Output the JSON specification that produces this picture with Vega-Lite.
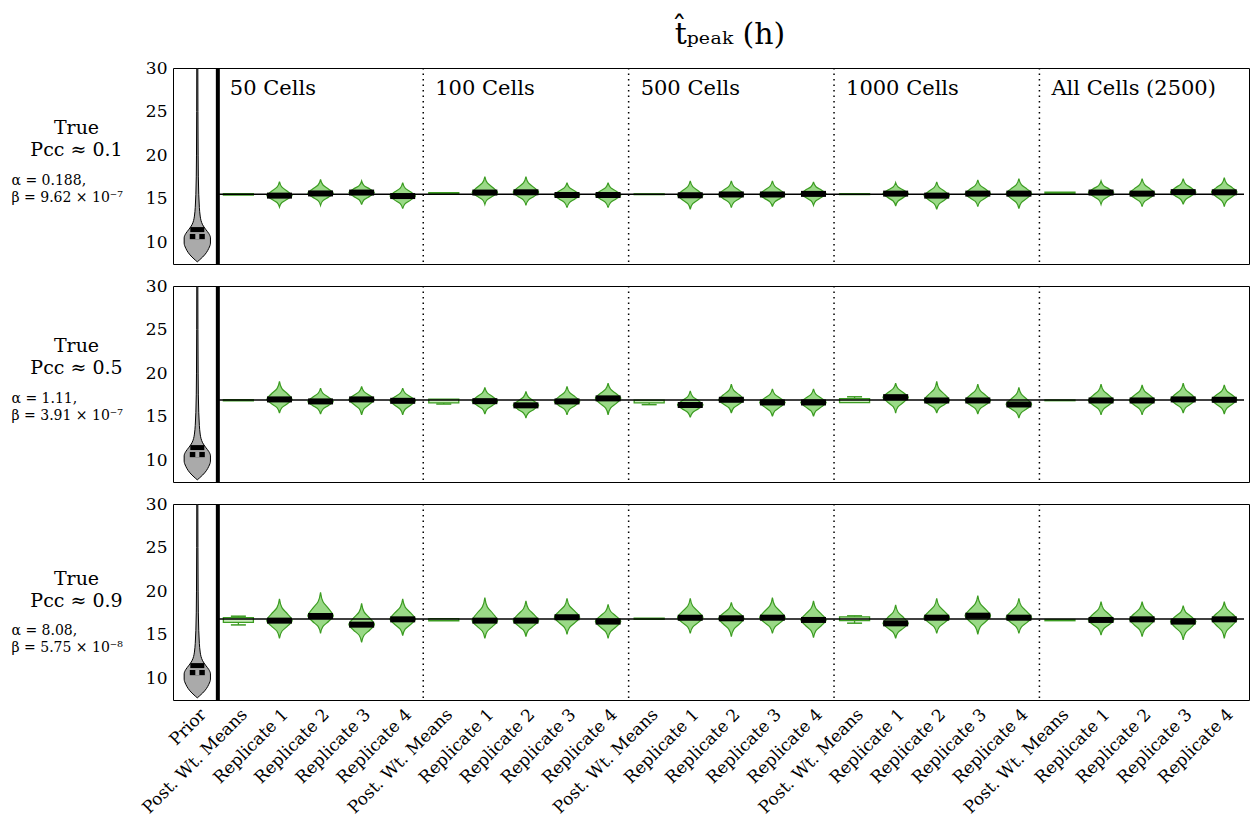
{
"$schema": "https://vega.github.io/schema/vega-lite/v6.json",
"padding": {"left": 10, "top": 19, "right": 6, "bottom": 2},
"background": "white",
"bounds": "flush",
"spacing": 22,
"config": {
  "view": {"stroke": "black", "strokeWidth": 1},
  "font": "DejaVu Serif",
  "axis": {"grid": false, "domain": false, "ticks": false, "labelFont": "DejaVu Serif", "labelColor": "black", "titleFont": "DejaVu Serif", "titleFontWeight": "normal", "titleColor": "black"}
},
"title": {"text": "t̂ₚₑₐₖ (h)", "fontSize": 30, "font": "DejaVu Serif", "fontWeight": "normal", "color": "black", "anchor": "middle", "offset": 9, "dx": 100},
"datasets": {
  "prior": [
    {"r":1,"c":0,"m":11.45,"s1":10.35,"s2":10.95,"y":[7.75,7.95,8.3,8.8,9.3,9.9,10.5,11.0,11.5,12.0,12.5,13.0,14.0,15.5,17.5,20,25,30],"w":[0,0.05,0.13,0.22,0.28,0.32,0.32,0.28,0.2,0.13,0.09,0.07,0.05,0.035,0.025,0.02,0.015,0.013]},
    {"r":2,"c":0,"m":11.45,"s1":10.35,"s2":10.95,"y":[7.75,7.95,8.3,8.8,9.3,9.9,10.5,11.0,11.5,12.0,12.5,13.0,14.0,15.5,17.5,20,25,30],"w":[0,0.05,0.13,0.22,0.28,0.32,0.32,0.28,0.2,0.13,0.09,0.07,0.05,0.035,0.025,0.02,0.015,0.013]},
    {"r":3,"c":0,"m":11.45,"s1":10.35,"s2":10.95,"y":[7.75,7.95,8.3,8.8,9.3,9.9,10.5,11.0,11.5,12.0,12.5,13.0,14.0,15.5,17.5,20,25,30],"w":[0,0.05,0.13,0.22,0.28,0.32,0.32,0.28,0.2,0.13,0.09,0.07,0.05,0.035,0.025,0.02,0.015,0.013]}
  ],
  "vio": [
    {"r":1,"c":2,"m":15.35,"y":[14.04,14.56,14.96,15.35,15.83,16.32,16.96],"w":[0,0.06,0.2,0.31,0.2,0.06,0]},
    {"r":1,"c":3,"m":15.6,"y":[14.24,14.78,15.19,15.6,16.09,16.57,17.22],"w":[0,0.06,0.2,0.31,0.2,0.06,0]},
    {"r":1,"c":4,"m":15.7,"y":[14.31,14.87,15.28,15.7,16.1,16.5,17.03],"w":[0,0.06,0.2,0.31,0.2,0.06,0]},
    {"r":1,"c":5,"m":15.3,"y":[13.85,14.43,14.86,15.3,15.76,16.22,16.84],"w":[0,0.06,0.2,0.31,0.2,0.06,0]},
    {"r":1,"c":7,"m":15.7,"y":[14.35,14.89,15.3,15.7,16.25,16.8,17.53],"w":[0,0.06,0.2,0.31,0.2,0.06,0]},
    {"r":1,"c":8,"m":15.73,"y":[14.24,14.84,15.28,15.73,16.27,16.81,17.53],"w":[0,0.06,0.2,0.31,0.2,0.06,0]},
    {"r":1,"c":9,"m":15.42,"y":[13.97,14.55,14.99,15.42,15.85,16.27,16.84],"w":[0,0.06,0.2,0.31,0.2,0.06,0]},
    {"r":1,"c":10,"m":15.42,"y":[13.97,14.55,14.99,15.42,15.85,16.27,16.84],"w":[0,0.06,0.2,0.31,0.2,0.06,0]},
    {"r":1,"c":12,"m":15.38,"y":[13.78,14.42,14.9,15.38,15.88,16.37,17.03],"w":[0,0.06,0.2,0.31,0.2,0.06,0]},
    {"r":1,"c":13,"m":15.48,"y":[13.97,14.57,15.03,15.48,15.95,16.41,17.03],"w":[0,0.06,0.2,0.31,0.2,0.06,0]},
    {"r":1,"c":14,"m":15.48,"y":[14.08,14.64,15.06,15.48,15.95,16.41,17.03],"w":[0,0.06,0.2,0.31,0.2,0.06,0]},
    {"r":1,"c":15,"m":15.55,"y":[14.24,14.76,15.16,15.55,15.96,16.37,16.92],"w":[0,0.06,0.2,0.31,0.2,0.06,0]},
    {"r":1,"c":17,"m":15.58,"y":[14.16,14.73,15.15,15.58,15.96,16.34,16.84],"w":[0,0.06,0.2,0.31,0.2,0.06,0]},
    {"r":1,"c":18,"m":15.35,"y":[13.78,14.41,14.88,15.35,15.82,16.29,16.92],"w":[0,0.06,0.2,0.31,0.2,0.06,0]},
    {"r":1,"c":19,"m":15.58,"y":[14.08,14.68,15.13,15.58,16.05,16.52,17.15],"w":[0,0.06,0.2,0.31,0.2,0.06,0]},
    {"r":1,"c":20,"m":15.58,"y":[13.85,14.54,15.06,15.58,16.1,16.61,17.3],"w":[0,0.06,0.2,0.31,0.2,0.06,0]},
    {"r":1,"c":22,"m":15.7,"y":[14.35,14.89,15.3,15.7,16.1,16.5,17.03],"w":[0,0.06,0.2,0.31,0.2,0.06,0]},
    {"r":1,"c":23,"m":15.58,"y":[14.08,14.68,15.13,15.58,16.1,16.61,17.3],"w":[0,0.06,0.2,0.31,0.2,0.06,0]},
    {"r":1,"c":24,"m":15.75,"y":[14.35,14.91,15.33,15.75,16.22,16.68,17.3],"w":[0,0.06,0.2,0.31,0.2,0.06,0]},
    {"r":1,"c":25,"m":15.73,"y":[14.08,14.74,15.24,15.73,16.24,16.74,17.42],"w":[0,0.06,0.2,0.31,0.2,0.06,0]},
    {"r":2,"c":2,"m":16.98,"y":[15.41,16.04,16.51,16.98,17.6,18.22,19.05],"w":[0,0.06,0.2,0.31,0.2,0.06,0]},
    {"r":2,"c":3,"m":16.75,"y":[15.29,15.87,16.31,16.75,17.21,17.67,18.28],"w":[0,0.06,0.2,0.31,0.2,0.06,0]},
    {"r":2,"c":4,"m":16.98,"y":[15.21,15.92,16.45,16.98,17.43,17.87,18.47],"w":[0,0.06,0.2,0.31,0.2,0.06,0]},
    {"r":2,"c":5,"m":16.82,"y":[15.21,15.85,16.34,16.82,17.26,17.7,18.28],"w":[0,0.06,0.2,0.31,0.2,0.06,0]},
    {"r":2,"c":7,"m":16.78,"y":[15.29,15.89,16.33,16.78,17.25,17.73,18.36],"w":[0,0.06,0.2,0.31,0.2,0.06,0]},
    {"r":2,"c":8,"m":16.3,"y":[14.83,15.42,15.86,16.3,16.78,17.26,17.9],"w":[0,0.06,0.2,0.31,0.2,0.06,0]},
    {"r":2,"c":9,"m":16.75,"y":[15.21,15.83,16.29,16.75,17.27,17.78,18.47],"w":[0,0.06,0.2,0.31,0.2,0.06,0]},
    {"r":2,"c":10,"m":17.1,"y":[15.21,15.97,16.53,17.1,17.63,18.15,18.85],"w":[0,0.06,0.2,0.31,0.2,0.06,0]},
    {"r":2,"c":12,"m":16.33,"y":[14.91,15.48,15.9,16.33,16.82,17.31,17.97],"w":[0,0.06,0.2,0.31,0.2,0.06,0]},
    {"r":2,"c":13,"m":16.94,"y":[15.41,16.02,16.48,16.94,17.48,18.02,18.74],"w":[0,0.06,0.2,0.31,0.2,0.06,0]},
    {"r":2,"c":14,"m":16.63,"y":[15.02,15.66,16.15,16.63,17.1,17.57,18.2],"w":[0,0.06,0.2,0.31,0.2,0.06,0]},
    {"r":2,"c":15,"m":16.63,"y":[15.02,15.66,16.15,16.63,17.1,17.57,18.2],"w":[0,0.06,0.2,0.31,0.2,0.06,0]},
    {"r":2,"c":17,"m":17.24,"y":[15.41,16.14,16.69,17.24,17.72,18.21,18.85],"w":[0,0.06,0.2,0.31,0.2,0.06,0]},
    {"r":2,"c":18,"m":16.86,"y":[15.41,15.99,16.43,16.86,17.52,18.17,19.05],"w":[0,0.06,0.2,0.31,0.2,0.06,0]},
    {"r":2,"c":19,"m":16.86,"y":[15.29,15.92,16.39,16.86,17.42,17.99,18.74],"w":[0,0.06,0.2,0.31,0.2,0.06,0]},
    {"r":2,"c":20,"m":16.4,"y":[14.83,15.46,15.93,16.4,16.99,17.58,18.36],"w":[0,0.06,0.2,0.31,0.2,0.06,0]},
    {"r":2,"c":22,"m":16.86,"y":[15.21,15.87,16.37,16.86,17.42,17.99,18.74],"w":[0,0.06,0.2,0.31,0.2,0.06,0]},
    {"r":2,"c":23,"m":16.86,"y":[15.21,15.87,16.37,16.86,17.4,17.94,18.66],"w":[0,0.06,0.2,0.31,0.2,0.06,0]},
    {"r":2,"c":24,"m":16.98,"y":[15.41,16.04,16.51,16.98,17.54,18.1,18.85],"w":[0,0.06,0.2,0.31,0.2,0.06,0]},
    {"r":2,"c":25,"m":16.94,"y":[15.29,15.95,16.45,16.94,17.46,17.97,18.66],"w":[0,0.06,0.2,0.31,0.2,0.06,0]},
    {"r":3,"c":2,"m":16.61,"y":[14.58,15.39,16.0,16.61,17.36,18.1,19.1],"w":[0,0.06,0.2,0.31,0.2,0.06,0]},
    {"r":3,"c":3,"m":17.14,"y":[15.15,15.95,16.54,17.14,17.96,18.78,19.87],"w":[0,0.06,0.2,0.31,0.2,0.06,0]},
    {"r":3,"c":4,"m":16.15,"y":[14.12,14.93,15.54,16.15,16.89,17.62,18.6],"w":[0,0.06,0.2,0.31,0.2,0.06,0]},
    {"r":3,"c":5,"m":16.76,"y":[14.88,15.63,16.2,16.76,17.46,18.16,19.1],"w":[0,0.06,0.2,0.31,0.2,0.06,0]},
    {"r":3,"c":7,"m":16.61,"y":[14.58,15.39,16.0,16.61,17.4,18.19,19.25],"w":[0,0.06,0.2,0.31,0.2,0.06,0]},
    {"r":3,"c":8,"m":16.61,"y":[14.77,15.51,16.06,16.61,17.29,17.97,18.87],"w":[0,0.06,0.2,0.31,0.2,0.06,0]},
    {"r":3,"c":9,"m":17.0,"y":[15.04,15.82,16.41,17.0,17.65,18.31,19.18],"w":[0,0.06,0.2,0.31,0.2,0.06,0]},
    {"r":3,"c":10,"m":16.5,"y":[14.58,15.35,15.92,16.5,17.1,17.69,18.49],"w":[0,0.06,0.2,0.31,0.2,0.06,0]},
    {"r":3,"c":12,"m":16.95,"y":[15.15,15.87,16.41,16.95,17.62,18.29,19.18],"w":[0,0.06,0.2,0.31,0.2,0.06,0]},
    {"r":3,"c":13,"m":16.88,"y":[14.77,15.61,16.25,16.88,17.43,17.98,18.72],"w":[0,0.06,0.2,0.31,0.2,0.06,0]},
    {"r":3,"c":14,"m":16.95,"y":[15.15,15.87,16.41,16.95,17.64,18.33,19.25],"w":[0,0.06,0.2,0.31,0.2,0.06,0]},
    {"r":3,"c":15,"m":16.69,"y":[14.65,15.47,16.08,16.69,17.34,18.0,18.87],"w":[0,0.06,0.2,0.31,0.2,0.06,0]},
    {"r":3,"c":17,"m":16.3,"y":[14.58,15.27,15.78,16.3,16.93,17.57,18.41],"w":[0,0.06,0.2,0.31,0.2,0.06,0]},
    {"r":3,"c":18,"m":16.95,"y":[15.15,15.87,16.41,16.95,17.62,18.29,19.18],"w":[0,0.06,0.2,0.31,0.2,0.06,0]},
    {"r":3,"c":19,"m":17.18,"y":[15.04,15.9,16.54,17.18,17.87,18.56,19.48],"w":[0,0.06,0.2,0.31,0.2,0.06,0]},
    {"r":3,"c":20,"m":16.95,"y":[15.15,15.87,16.41,16.95,17.62,18.29,19.18],"w":[0,0.06,0.2,0.31,0.2,0.06,0]},
    {"r":3,"c":22,"m":16.69,"y":[14.96,15.65,16.17,16.69,17.32,17.95,18.79],"w":[0,0.06,0.2,0.31,0.2,0.06,0]},
    {"r":3,"c":23,"m":16.76,"y":[14.77,15.56,16.16,16.76,17.37,17.98,18.79],"w":[0,0.06,0.2,0.31,0.2,0.06,0]},
    {"r":3,"c":24,"m":16.5,"y":[14.39,15.23,15.87,16.5,17.05,17.6,18.33],"w":[0,0.06,0.2,0.31,0.2,0.06,0]},
    {"r":3,"c":25,"m":16.76,"y":[14.58,15.45,16.11,16.76,17.37,17.98,18.79],"w":[0,0.06,0.2,0.31,0.2,0.06,0]}
  ],
  "pwm": [
    {"r":1,"c":1,"lo":15.42,"hi":15.58},{"r":1,"c":6,"lo":15.57,"hi":15.68},{"r":1,"c":11,"lo":15.46,"hi":15.56},{"r":1,"c":16,"lo":15.47,"hi":15.57},{"r":1,"c":21,"lo":15.6,"hi":15.75},
    {"r":2,"c":1,"lo":16.82,"hi":16.96},{"r":2,"c":6,"lo":16.58,"hi":17.02},{"r":2,"c":11,"lo":16.58,"hi":16.9},{"r":2,"c":16,"lo":16.62,"hi":17.08},{"r":2,"c":21,"lo":16.83,"hi":16.92},
    {"r":3,"c":1,"lo":16.42,"hi":16.95},{"r":3,"c":6,"lo":16.6,"hi":16.85},{"r":3,"c":11,"lo":16.75,"hi":16.9},{"r":3,"c":16,"lo":16.62,"hi":17.05},{"r":3,"c":21,"lo":16.6,"hi":16.74}
  ],
  "caps": [
    {"r":2,"c":6,"y0":16.58,"y1":16.45},{"r":2,"c":11,"y0":16.58,"y1":16.38},{"r":2,"c":16,"y0":17.08,"y1":17.28},
    {"r":3,"c":1,"y0":16.95,"y1":17.12},{"r":3,"c":1,"y0":16.42,"y1":16.12},{"r":3,"c":16,"y0":17.05,"y1":17.16},{"r":3,"c":16,"y0":16.62,"y1":16.32}
  ],
  "truth": [{"r":1,"t":15.5},{"r":2,"t":16.9},{"r":3,"t":16.8}],
  "sep": [{"b":5.5},{"b":10.5},{"b":15.5},{"b":20.5}],
  "grp": [{"g":"50 Cells","b":0.5},{"g":"100 Cells","b":5.5},{"g":"500 Cells","b":10.5},{"g":"1000 Cells","b":15.5},{"g":"All Cells (2500)","b":20.5}]
},
"vconcat": [
 {
  "width": 1076, "height": 196,
  "resolve": {"axis": {"y": "independent"}},
  "layer": [
    {"data": {"name": "prior"}, "transform": [{"filter": "datum.r == 1"}, {"flatten": ["y", "w"]}, {"calculate": "datum.c - datum.w", "as": "lo"}, {"calculate": "datum.c + datum.w", "as": "hi"}],
     "mark": {"type": "area", "orient": "horizontal", "interpolate": "monotone", "fill": "#aaaaaa", "stroke": "black", "strokeWidth": 1, "clip": true},
     "encoding": {"y": {"field": "y", "type": "quantitative", "scale": {"domain": [7.5, 30], "nice": false, "zero": false}, "axis": {"values": [10, 15, 20, 25, 30], "labelFontSize": 17, "labelPadding": 6, "title": ["True", "Pcc ≈ 0.1"], "titleAngle": 0, "titleAlign": "center", "titleBaseline": "top", "titleX": -97, "titleY": 50, "titleFontSize": 19, "titleLineHeight": 22}},
                  "x": {"field": "lo", "type": "quantitative", "scale": {"domain": [-0.47, 25.48], "nice": false, "zero": false}, "axis": null}, "x2": {"field": "hi"}}},
    {"data": {"values": [{}]}, "mark": {"type": "rule", "opacity": 0},
     "encoding": {"y": {"datum": 20, "type": "quantitative", "scale": {"domain": [7.5, 30], "nice": false, "zero": false}, "axis": {"orient": "left", "labels": false, "ticks": false, "domain": false, "grid": false, "title": ["α = 0.188,", "β = 9.62 × 10⁻⁷"], "titleAngle": 0, "titleAlign": "left", "titleBaseline": "top", "titleX": -162, "titleY": 105, "titleFontSize": 14, "titleLineHeight": 17}}}},
    {"data": {"name": "prior"}, "transform": [{"filter": "datum.r == 1"}], "mark": {"type": "tick", "orient": "horizontal", "size": 14, "thickness": 5, "color": "black", "opacity": 1},
     "encoding": {"y": {"field": "m", "type": "quantitative", "scale": {"domain": [7.5, 30], "nice": false, "zero": false}, "axis": null}, "x": {"field": "c", "type": "quantitative", "scale": {"domain": [-0.47, 25.48], "nice": false, "zero": false}, "axis": null}}},
    {"data": {"name": "prior"}, "transform": [{"filter": "datum.r == 1"}], "mark": {"type": "bar", "size": 15, "color": "black"},
     "encoding": {"y": {"field": "s1", "type": "quantitative", "scale": {"domain": [7.5, 30], "nice": false, "zero": false}, "axis": null}, "y2": {"field": "s2"}, "x": {"field": "c", "type": "quantitative", "scale": {"domain": [-0.47, 25.48], "nice": false, "zero": false}, "axis": null}}},
    {"data": {"name": "prior"}, "transform": [{"filter": "datum.r == 1"}], "mark": {"type": "bar", "size": 4, "color": "#aaaaaa"},
     "encoding": {"y": {"field": "s1", "type": "quantitative", "scale": {"domain": [7.5, 30], "nice": false, "zero": false}, "axis": null}, "y2": {"field": "s2"}, "x": {"field": "c", "type": "quantitative", "scale": {"domain": [-0.47, 25.48], "nice": false, "zero": false}, "axis": null}}},
    {"data": {"name": "vio"}, "transform": [{"filter": "datum.r == 1"}, {"flatten": ["y", "w"]}, {"calculate": "datum.c - datum.w", "as": "lo"}, {"calculate": "datum.c + datum.w", "as": "hi"}],
     "mark": {"type": "area", "orient": "horizontal", "interpolate": "monotone", "fill": "#9ad987", "stroke": "#3c9c22", "strokeWidth": 1.2},
     "encoding": {"y": {"field": "y", "type": "quantitative", "scale": {"domain": [7.5, 30], "nice": false, "zero": false}, "axis": null},
                  "x": {"field": "lo", "type": "quantitative", "scale": {"domain": [-0.47, 25.48], "nice": false, "zero": false}, "axis": null, "stack": null}, "x2": {"field": "hi"}, "detail": {"field": "c", "type": "nominal"}}},
    {"data": {"name": "pwm"}, "transform": [{"filter": "datum.r == 1"}], "mark": {"type": "bar", "size": 30, "fill": "#c9ecbb", "stroke": "#3c9c22", "strokeWidth": 1.3},
     "encoding": {"y": {"field": "lo", "type": "quantitative", "scale": {"domain": [7.5, 30], "nice": false, "zero": false}, "axis": null}, "y2": {"field": "hi"}, "x": {"field": "c", "type": "quantitative", "scale": {"domain": [-0.47, 25.48], "nice": false, "zero": false}, "axis": null}}},
    {"data": {"name": "truth"}, "transform": [{"filter": "datum.r == 1"}], "mark": {"type": "rule", "color": "black", "strokeWidth": 1.5},
     "encoding": {"y": {"field": "t", "type": "quantitative", "scale": {"domain": [7.5, 30], "nice": false, "zero": false}, "axis": null}, "x": {"datum": 0.5, "type": "quantitative", "scale": {"domain": [-0.47, 25.48], "nice": false, "zero": false}, "axis": null}, "x2": {"datum": 25.48}}},
    {"data": {"name": "vio"}, "transform": [{"filter": "datum.r == 1"}], "mark": {"type": "tick", "orient": "horizontal", "size": 25, "thickness": 6, "color": "black", "opacity": 1},
     "encoding": {"y": {"field": "m", "type": "quantitative", "scale": {"domain": [7.5, 30], "nice": false, "zero": false}, "axis": null}, "x": {"field": "c", "type": "quantitative", "scale": {"domain": [-0.47, 25.48], "nice": false, "zero": false}, "axis": null}}},
    {"data": {"name": "sep"}, "mark": {"type": "rule", "color": "black", "strokeWidth": 1.5, "strokeDash": [1.5, 4]},
     "encoding": {"x": {"field": "b", "type": "quantitative", "scale": {"domain": [-0.47, 25.48], "nice": false, "zero": false}, "axis": null}}},
    {"data": {"values": [{}]}, "mark": {"type": "rule", "color": "black", "strokeWidth": 4},
     "encoding": {"x": {"datum": 0.5, "type": "quantitative", "scale": {"domain": [-0.47, 25.48], "nice": false, "zero": false}, "axis": null}}},
    {"data": {"name": "grp"}, "mark": {"type": "text", "align": "left", "baseline": "middle", "dx": 12, "dy": 21, "fontSize": 21, "font": "DejaVu Serif", "color": "black"},
     "encoding": {"x": {"field": "b", "type": "quantitative", "scale": {"domain": [-0.47, 25.48], "nice": false, "zero": false}, "axis": null}, "y": {"datum": 30, "type": "quantitative", "scale": {"domain": [7.5, 30], "nice": false, "zero": false}, "axis": null}, "text": {"field": "g"}}}
  ]
 },
 {
  "width": 1076, "height": 196,
  "resolve": {"axis": {"y": "independent"}},
  "layer": [
    {"data": {"name": "prior"}, "transform": [{"filter": "datum.r == 2"}, {"flatten": ["y", "w"]}, {"calculate": "datum.c - datum.w", "as": "lo"}, {"calculate": "datum.c + datum.w", "as": "hi"}],
     "mark": {"type": "area", "orient": "horizontal", "interpolate": "monotone", "fill": "#aaaaaa", "stroke": "black", "strokeWidth": 1, "clip": true},
     "encoding": {"y": {"field": "y", "type": "quantitative", "scale": {"domain": [7.5, 30], "nice": false, "zero": false}, "axis": {"values": [10, 15, 20, 25, 30], "labelFontSize": 17, "labelPadding": 6, "title": ["True", "Pcc ≈ 0.5"], "titleAngle": 0, "titleAlign": "center", "titleBaseline": "top", "titleX": -97, "titleY": 50, "titleFontSize": 19, "titleLineHeight": 22}},
                  "x": {"field": "lo", "type": "quantitative", "scale": {"domain": [-0.47, 25.48], "nice": false, "zero": false}, "axis": null}, "x2": {"field": "hi"}}},
    {"data": {"values": [{}]}, "mark": {"type": "rule", "opacity": 0},
     "encoding": {"y": {"datum": 20, "type": "quantitative", "scale": {"domain": [7.5, 30], "nice": false, "zero": false}, "axis": {"orient": "left", "labels": false, "ticks": false, "domain": false, "grid": false, "title": ["α = 1.11,", "β = 3.91 × 10⁻⁷"], "titleAngle": 0, "titleAlign": "left", "titleBaseline": "top", "titleX": -162, "titleY": 105, "titleFontSize": 14, "titleLineHeight": 17}}}},
    {"data": {"name": "prior"}, "transform": [{"filter": "datum.r == 2"}], "mark": {"type": "tick", "orient": "horizontal", "size": 14, "thickness": 5, "color": "black", "opacity": 1},
     "encoding": {"y": {"field": "m", "type": "quantitative", "scale": {"domain": [7.5, 30], "nice": false, "zero": false}, "axis": null}, "x": {"field": "c", "type": "quantitative", "scale": {"domain": [-0.47, 25.48], "nice": false, "zero": false}, "axis": null}}},
    {"data": {"name": "prior"}, "transform": [{"filter": "datum.r == 2"}], "mark": {"type": "bar", "size": 15, "color": "black"},
     "encoding": {"y": {"field": "s1", "type": "quantitative", "scale": {"domain": [7.5, 30], "nice": false, "zero": false}, "axis": null}, "y2": {"field": "s2"}, "x": {"field": "c", "type": "quantitative", "scale": {"domain": [-0.47, 25.48], "nice": false, "zero": false}, "axis": null}}},
    {"data": {"name": "prior"}, "transform": [{"filter": "datum.r == 2"}], "mark": {"type": "bar", "size": 4, "color": "#aaaaaa"},
     "encoding": {"y": {"field": "s1", "type": "quantitative", "scale": {"domain": [7.5, 30], "nice": false, "zero": false}, "axis": null}, "y2": {"field": "s2"}, "x": {"field": "c", "type": "quantitative", "scale": {"domain": [-0.47, 25.48], "nice": false, "zero": false}, "axis": null}}},
    {"data": {"name": "vio"}, "transform": [{"filter": "datum.r == 2"}, {"flatten": ["y", "w"]}, {"calculate": "datum.c - datum.w", "as": "lo"}, {"calculate": "datum.c + datum.w", "as": "hi"}],
     "mark": {"type": "area", "orient": "horizontal", "interpolate": "monotone", "fill": "#9ad987", "stroke": "#3c9c22", "strokeWidth": 1.2},
     "encoding": {"y": {"field": "y", "type": "quantitative", "scale": {"domain": [7.5, 30], "nice": false, "zero": false}, "axis": null},
                  "x": {"field": "lo", "type": "quantitative", "scale": {"domain": [-0.47, 25.48], "nice": false, "zero": false}, "axis": null, "stack": null}, "x2": {"field": "hi"}, "detail": {"field": "c", "type": "nominal"}}},
    {"data": {"name": "caps"}, "transform": [{"filter": "datum.r == 2"}], "mark": {"type": "rule", "color": "#3c9c22", "strokeWidth": 1.3},
     "encoding": {"y": {"field": "y0", "type": "quantitative", "scale": {"domain": [7.5, 30], "nice": false, "zero": false}, "axis": null}, "y2": {"field": "y1"}, "x": {"field": "c", "type": "quantitative", "scale": {"domain": [-0.47, 25.48], "nice": false, "zero": false}, "axis": null}}},
    {"data": {"name": "caps"}, "transform": [{"filter": "datum.r == 2"}], "mark": {"type": "tick", "orient": "horizontal", "size": 15, "thickness": 1.5, "color": "#3c9c22", "opacity": 1},
     "encoding": {"y": {"field": "y1", "type": "quantitative", "scale": {"domain": [7.5, 30], "nice": false, "zero": false}, "axis": null}, "x": {"field": "c", "type": "quantitative", "scale": {"domain": [-0.47, 25.48], "nice": false, "zero": false}, "axis": null}}},
    {"data": {"name": "pwm"}, "transform": [{"filter": "datum.r == 2"}], "mark": {"type": "bar", "size": 30, "fill": "#c9ecbb", "stroke": "#3c9c22", "strokeWidth": 1.3},
     "encoding": {"y": {"field": "lo", "type": "quantitative", "scale": {"domain": [7.5, 30], "nice": false, "zero": false}, "axis": null}, "y2": {"field": "hi"}, "x": {"field": "c", "type": "quantitative", "scale": {"domain": [-0.47, 25.48], "nice": false, "zero": false}, "axis": null}}},
    {"data": {"name": "truth"}, "transform": [{"filter": "datum.r == 2"}], "mark": {"type": "rule", "color": "black", "strokeWidth": 1.5},
     "encoding": {"y": {"field": "t", "type": "quantitative", "scale": {"domain": [7.5, 30], "nice": false, "zero": false}, "axis": null}, "x": {"datum": 0.5, "type": "quantitative", "scale": {"domain": [-0.47, 25.48], "nice": false, "zero": false}, "axis": null}, "x2": {"datum": 25.48}}},
    {"data": {"name": "vio"}, "transform": [{"filter": "datum.r == 2"}], "mark": {"type": "tick", "orient": "horizontal", "size": 25, "thickness": 6, "color": "black", "opacity": 1},
     "encoding": {"y": {"field": "m", "type": "quantitative", "scale": {"domain": [7.5, 30], "nice": false, "zero": false}, "axis": null}, "x": {"field": "c", "type": "quantitative", "scale": {"domain": [-0.47, 25.48], "nice": false, "zero": false}, "axis": null}}},
    {"data": {"name": "sep"}, "mark": {"type": "rule", "color": "black", "strokeWidth": 1.5, "strokeDash": [1.5, 4]},
     "encoding": {"x": {"field": "b", "type": "quantitative", "scale": {"domain": [-0.47, 25.48], "nice": false, "zero": false}, "axis": null}}},
    {"data": {"values": [{}]}, "mark": {"type": "rule", "color": "black", "strokeWidth": 4},
     "encoding": {"x": {"datum": 0.5, "type": "quantitative", "scale": {"domain": [-0.47, 25.48], "nice": false, "zero": false}, "axis": null}}}
  ]
 },
 {
  "width": 1076, "height": 196,
  "resolve": {"axis": {"y": "independent"}},
  "layer": [
    {"data": {"name": "prior"}, "transform": [{"filter": "datum.r == 3"}, {"flatten": ["y", "w"]}, {"calculate": "datum.c - datum.w", "as": "lo"}, {"calculate": "datum.c + datum.w", "as": "hi"}],
     "mark": {"type": "area", "orient": "horizontal", "interpolate": "monotone", "fill": "#aaaaaa", "stroke": "black", "strokeWidth": 1, "clip": true},
     "encoding": {"y": {"field": "y", "type": "quantitative", "scale": {"domain": [7.5, 30], "nice": false, "zero": false}, "axis": {"values": [10, 15, 20, 25, 30], "labelFontSize": 17, "labelPadding": 6, "title": ["True", "Pcc ≈ 0.9"], "titleAngle": 0, "titleAlign": "center", "titleBaseline": "top", "titleX": -97, "titleY": 65, "titleFontSize": 19, "titleLineHeight": 22}},
                  "x": {"field": "lo", "type": "quantitative", "scale": {"domain": [-0.47, 25.48], "nice": false, "zero": false}, "axis": {"values": [0,1,2,3,4,5,6,7,8,9,10,11,12,13,14,15,16,17,18,19,20,21,22,23,24,25], "labelExpr": "datum.value == 0 ? 'Prior' : (datum.value % 5 == 1 ? 'Post. Wt. Means' : 'Replicate ' + ((datum.value + 3) % 5 + 1))", "labelAngle": -45, "labelAlign": "right", "labelBaseline": "top", "labelFontSize": 17, "labelPadding": 6, "title": null, "labelOverlap": false, "labelBound": false, "labelFlush": false}}, "x2": {"field": "hi"}}},
    {"data": {"values": [{}]}, "mark": {"type": "rule", "opacity": 0},
     "encoding": {"y": {"datum": 20, "type": "quantitative", "scale": {"domain": [7.5, 30], "nice": false, "zero": false}, "axis": {"orient": "left", "labels": false, "ticks": false, "domain": false, "grid": false, "title": ["α = 8.08,", "β = 5.75 × 10⁻⁸"], "titleAngle": 0, "titleAlign": "left", "titleBaseline": "top", "titleX": -162, "titleY": 119, "titleFontSize": 14, "titleLineHeight": 17}}}},
    {"data": {"name": "prior"}, "transform": [{"filter": "datum.r == 3"}], "mark": {"type": "tick", "orient": "horizontal", "size": 14, "thickness": 5, "color": "black", "opacity": 1},
     "encoding": {"y": {"field": "m", "type": "quantitative", "scale": {"domain": [7.5, 30], "nice": false, "zero": false}, "axis": null}, "x": {"field": "c", "type": "quantitative", "scale": {"domain": [-0.47, 25.48], "nice": false, "zero": false}}}},
    {"data": {"name": "prior"}, "transform": [{"filter": "datum.r == 3"}], "mark": {"type": "bar", "size": 15, "color": "black"},
     "encoding": {"y": {"field": "s1", "type": "quantitative", "scale": {"domain": [7.5, 30], "nice": false, "zero": false}, "axis": null}, "y2": {"field": "s2"}, "x": {"field": "c", "type": "quantitative", "scale": {"domain": [-0.47, 25.48], "nice": false, "zero": false}}}},
    {"data": {"name": "prior"}, "transform": [{"filter": "datum.r == 3"}], "mark": {"type": "bar", "size": 4, "color": "#aaaaaa"},
     "encoding": {"y": {"field": "s1", "type": "quantitative", "scale": {"domain": [7.5, 30], "nice": false, "zero": false}, "axis": null}, "y2": {"field": "s2"}, "x": {"field": "c", "type": "quantitative", "scale": {"domain": [-0.47, 25.48], "nice": false, "zero": false}}}},
    {"data": {"name": "vio"}, "transform": [{"filter": "datum.r == 3"}, {"flatten": ["y", "w"]}, {"calculate": "datum.c - datum.w", "as": "lo"}, {"calculate": "datum.c + datum.w", "as": "hi"}],
     "mark": {"type": "area", "orient": "horizontal", "interpolate": "monotone", "fill": "#9ad987", "stroke": "#3c9c22", "strokeWidth": 1.2},
     "encoding": {"y": {"field": "y", "type": "quantitative", "scale": {"domain": [7.5, 30], "nice": false, "zero": false}, "axis": null},
                  "x": {"field": "lo", "type": "quantitative", "scale": {"domain": [-0.47, 25.48], "nice": false, "zero": false}, "stack": null}, "x2": {"field": "hi"}, "detail": {"field": "c", "type": "nominal"}}},
    {"data": {"name": "caps"}, "transform": [{"filter": "datum.r == 3"}], "mark": {"type": "rule", "color": "#3c9c22", "strokeWidth": 1.3},
     "encoding": {"y": {"field": "y0", "type": "quantitative", "scale": {"domain": [7.5, 30], "nice": false, "zero": false}, "axis": null}, "y2": {"field": "y1"}, "x": {"field": "c", "type": "quantitative", "scale": {"domain": [-0.47, 25.48], "nice": false, "zero": false}}}},
    {"data": {"name": "caps"}, "transform": [{"filter": "datum.r == 3"}], "mark": {"type": "tick", "orient": "horizontal", "size": 15, "thickness": 1.5, "color": "#3c9c22", "opacity": 1},
     "encoding": {"y": {"field": "y1", "type": "quantitative", "scale": {"domain": [7.5, 30], "nice": false, "zero": false}, "axis": null}, "x": {"field": "c", "type": "quantitative", "scale": {"domain": [-0.47, 25.48], "nice": false, "zero": false}}}},
    {"data": {"name": "pwm"}, "transform": [{"filter": "datum.r == 3"}], "mark": {"type": "bar", "size": 30, "fill": "#c9ecbb", "stroke": "#3c9c22", "strokeWidth": 1.3},
     "encoding": {"y": {"field": "lo", "type": "quantitative", "scale": {"domain": [7.5, 30], "nice": false, "zero": false}, "axis": null}, "y2": {"field": "hi"}, "x": {"field": "c", "type": "quantitative", "scale": {"domain": [-0.47, 25.48], "nice": false, "zero": false}}}},
    {"data": {"name": "truth"}, "transform": [{"filter": "datum.r == 3"}], "mark": {"type": "rule", "color": "black", "strokeWidth": 1.5},
     "encoding": {"y": {"field": "t", "type": "quantitative", "scale": {"domain": [7.5, 30], "nice": false, "zero": false}, "axis": null}, "x": {"datum": 0.5, "type": "quantitative", "scale": {"domain": [-0.47, 25.48], "nice": false, "zero": false}}, "x2": {"datum": 25.48}}},
    {"data": {"name": "vio"}, "transform": [{"filter": "datum.r == 3"}], "mark": {"type": "tick", "orient": "horizontal", "size": 25, "thickness": 6, "color": "black", "opacity": 1},
     "encoding": {"y": {"field": "m", "type": "quantitative", "scale": {"domain": [7.5, 30], "nice": false, "zero": false}, "axis": null}, "x": {"field": "c", "type": "quantitative", "scale": {"domain": [-0.47, 25.48], "nice": false, "zero": false}}}},
    {"data": {"name": "sep"}, "mark": {"type": "rule", "color": "black", "strokeWidth": 1.5, "strokeDash": [1.5, 4]},
     "encoding": {"x": {"field": "b", "type": "quantitative", "scale": {"domain": [-0.47, 25.48], "nice": false, "zero": false}}}},
    {"data": {"values": [{}]}, "mark": {"type": "rule", "color": "black", "strokeWidth": 4},
     "encoding": {"x": {"datum": 0.5, "type": "quantitative", "scale": {"domain": [-0.47, 25.48], "nice": false, "zero": false}}}}
  ]
 }
]
}
